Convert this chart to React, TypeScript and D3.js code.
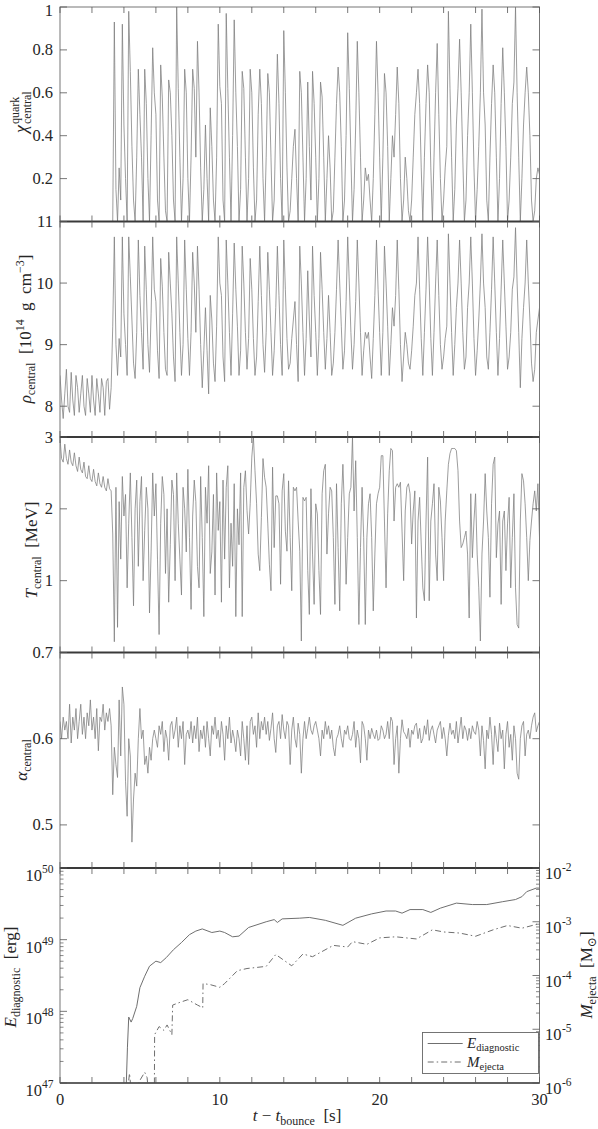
import React from "react";
import * as d3 from "d3";

// time step of the uniformly sampled central quantities [s]
const DT = 0.1;

// quark fraction at the centre (one row per second)
const chiQuark = [
  0, 0, 0, 0, 0, 0, 0, 0, 0, 0,
  0, 0, 0, 0, 0, 0, 0, 0, 0, 0,
  0, 0, 0, 0, 0, 0, 0, 0, 0, 0,
  0, 0, 0, 0, 0.93, 0.15, 0, 0.25, 0.1, 0.92,
  0.45, 0.2, 0, 0.98, 0.7, 0.35, 0.1, 0, 0.3, 0.71,
  0.5, 0.3, 0, 0.71, 0.55, 0.2, 0, 0.4, 0.81, 0.6,
  0.5, 0.1, 0, 0.73, 0.58, 0.3, 0.05, 0, 0.66, 0.6,
  0.4, 0.1, 0, 1.0, 0.62, 0.3, 0, 0.2, 0.71, 0.6,
  0.2, 0, 0.3, 0.71, 0.62, 0.3, 0.84, 0.6, 0.25, 0,
  0.15, 0.45, 0.2, 0, 0.53, 0.35, 0.1, 0, 0.3, 0.92,
  0.63, 0.55, 0.1, 0, 0.97, 0.62, 0.3, 0, 0.4, 0.94,
  0.6, 0.35, 0, 0.15, 0.7, 0.62, 0.3, 0, 0.2, 0.71,
  0.6, 0.25, 0, 0.1, 0.5, 0.71, 0.55, 0.2, 0, 0.3,
  0.69, 0.6, 0.3, 0, 0.1, 0.45, 0.78, 0.55, 0.2, 0,
  0.89, 0.6, 0.25, 0, 0.05, 0.2, 0.35, 0.43, 0.2, 0,
  0.7, 0.6, 0.3, 0, 0.2, 0.65, 0.35, 0.1, 0.7, 0.55,
  0.3, 0, 0.2, 0.65, 0.58, 0.3, 0, 0.2, 0.4, 0.25,
  0, 0.05, 0.3, 0.55, 0.72, 0.6, 0.35, 0, 0.1, 0.4,
  0.88, 0.62, 0.3, 0, 0.15, 0.45, 0.84, 0.6, 0.3, 0,
  0.1, 0.25, 0.19, 0.22, 0.1, 0, 0.2, 0.5, 0.84, 0.6,
  0.3, 0, 0.3, 0.69, 0.6, 0.35, 0, 0.2, 0.4, 0.3,
  0.5, 0.72, 0.55, 0.2, 0, 0.1, 0.3, 0.2, 0.05, 0,
  0.1, 0.3, 0.5, 0.6, 0.71, 0.55, 0.25, 0, 0.3, 0.55,
  0.73, 0.6, 0.25, 0, 0.3, 0.6, 0.83, 0.5, 0.2, 0,
  0.1, 0.25, 0.35, 0.98, 0.62, 0.3, 0, 0.15, 0.45, 0.62,
  0.85, 0.6, 0.3, 0, 0.1, 0.4, 0.6, 0.92, 0.6, 0.25,
  0, 0.15, 0.35, 0.6, 0.99, 0.6, 0.45, 0.1, 0, 0.3,
  0.55, 0.73, 0.6, 0.3, 0, 0.2, 0.55, 0.81, 0.6, 0.35,
  0, 0.1, 0.3, 0.55, 0.65, 1.0, 0.6, 0.3, 0, 0.2,
  0.45, 0.6, 0.72, 0.6, 0.4, 0.1, 0, 0.05, 0.2, 0.25,
  0.22,
];

// central density [1e14 g/cm^3]
const rhoCentral = [
  8.5, 8.1, 7.8, 8.2, 8.6, 8.0, 7.9, 8.55, 8.1, 7.85,
  8.5, 8.3, 7.9, 8.2, 8.5, 8.0, 7.85, 8.45, 8.2, 7.9,
  8.5, 8.1, 7.85, 8.45, 8.2, 7.9, 8.45, 8.3, 7.85, 8.4,
  8.45, 7.95, 8.3, 9.3, 10.75, 9.0, 8.5, 9.1, 8.8, 10.75,
  9.5, 9.0, 8.5, 10.75, 10.1, 9.4, 8.7, 8.45, 9.2, 10.7,
  9.8, 9.2, 8.6, 10.6, 9.9, 9.0, 8.55, 9.5, 10.75, 9.9,
  9.7, 8.9, 8.45, 10.4, 9.95, 9.2, 8.6, 8.5, 10.5, 10.0,
  9.5, 8.8, 8.4, 10.75, 10.0, 9.2, 8.5, 9.0, 10.7, 9.9,
  9.1, 8.5, 9.2, 10.5, 10.0, 9.2, 10.6, 9.9, 9.0, 8.3,
  8.9, 9.6, 8.9, 8.2, 9.8, 9.4, 8.7, 8.4, 9.3, 10.75,
  10.0, 9.8, 8.8, 8.4, 10.7, 10.0, 9.2, 8.5, 9.5, 10.65,
  9.9, 9.3, 8.5, 8.9, 10.6, 10.0, 9.2, 8.6, 9.1, 10.4,
  9.9, 9.1, 8.5, 8.8, 9.7, 10.6, 9.8, 9.0, 8.55, 9.2,
  10.5, 9.9, 9.2, 8.5, 8.9, 9.6, 10.6, 9.8, 9.0, 8.5,
  10.7, 9.9, 9.1, 8.6, 8.7, 9.1, 9.4, 9.7, 9.0, 8.4,
  10.6, 10.0, 9.2, 8.5, 9.1, 10.2, 9.4, 8.8, 10.6, 9.8,
  9.2, 8.5, 9.1, 10.5, 9.9, 9.2, 8.6, 9.1, 9.8, 9.2,
  8.5, 8.7, 9.2, 9.9, 10.7, 10.0, 9.3, 8.6, 8.9, 9.7,
  10.75, 10.0, 9.2, 8.6, 9.0, 9.7, 10.7, 10.0, 9.2, 8.5,
  8.9, 9.2, 9.1, 9.2, 8.8, 8.45, 9.1, 9.8, 10.7, 9.9,
  9.2, 8.5, 9.2, 10.6, 10.0, 9.3, 8.5, 9.0, 9.6, 9.3,
  9.8, 10.7, 9.9, 9.0, 8.4, 8.8, 9.2, 9.0, 8.7, 8.6,
  8.9, 9.3, 9.8, 10.0, 10.75, 9.9, 9.1, 8.5, 9.2, 9.9,
  10.75, 10.0, 9.1, 8.5, 9.2, 10.0, 10.7, 9.8, 9.0, 8.6,
  8.8, 9.1, 9.3, 10.8, 10.0, 9.2, 8.5, 9.0, 9.6, 10.0,
  10.7, 10.0, 9.2, 8.6, 8.8, 9.6, 10.0, 10.75, 10.0, 9.1,
  8.5, 8.9, 9.4, 10.0, 10.8, 10.0, 9.6, 8.8, 8.6, 9.2,
  9.9, 10.75, 10.0, 9.2, 8.5, 9.1, 9.9, 10.7, 10.0, 9.3,
  8.6, 8.8, 9.2, 9.9, 10.1, 10.9, 10.0, 9.2, 8.3, 9.1,
  9.6, 10.0, 10.7, 10.0, 9.4, 8.7, 8.4, 8.6, 9.2, 9.4,
  9.6,
];

// central temperature [MeV]
const tempCentral = [
  2.98, 2.7, 2.65, 2.9, 2.7, 2.62, 2.82, 2.65, 2.6, 2.78,
  2.6, 2.52, 2.72, 2.55, 2.5, 2.65, 2.45, 2.42, 2.6, 2.42,
  2.38, 2.55, 2.38, 2.32, 2.5, 2.35, 2.3, 2.45, 2.3, 2.25,
  2.42, 2.28, 2.25, 1.65, 0.15, 2.3, 0.35, 2.1, 1.3, 2.45,
  1.9, 2.2, 0.9, 1.8, 2.5, 1.6, 0.65, 2.0, 2.4, 1.2,
  2.1, 2.45, 1.0, 1.7, 2.3, 2.0, 0.55, 1.4, 2.5, 1.9,
  2.35, 1.3, 0.25, 1.8, 2.45, 2.2, 1.1, 2.0, 0.7, 1.5,
  2.4, 2.2, 1.0, 2.5, 1.8, 1.3, 0.8, 2.3, 2.0, 1.4,
  2.55, 1.6, 0.6, 1.9, 2.4, 2.1, 1.2, 0.9, 2.45, 1.6,
  0.5, 2.3, 1.8, 2.6, 1.1, 1.4, 2.2, 0.8, 2.5, 1.7,
  2.1, 0.7, 2.4, 1.3, 2.3, 2.6, 0.9, 1.8, 1.2, 2.35,
  0.5, 2.0, 1.5, 2.5, 0.5, 2.3, 2.53, 1.98, 1.65, 2.07,
  2.72, 3.0, 2.53, 2.07, 1.37, 1.14, 1.88, 2.7, 2.44, 2.3,
  1.79, 1.23, 0.86, 2.58, 1.46, 2.18, 2.18, 2.07, 0.95, 2.25,
  2.49, 1.69, 1.41, 2.39, 1.6, 0.86, 2.3, 2.25, 2.3, 1.83,
  1.41, 0.16, 2.16, 2.11, 2.16, 1.14, 0.53, 2.28, 1.37, 0.67,
  2.07, 1.93, 1.14, 0.53, 2.21, 2.53, 2.62, 1.37, 1.93, 2.3,
  2.25, 1.6, 0.67, 2.35, 1.46, 0.58, 2.07, 2.62, 1.97, 0.95,
  1.6, 2.21, 2.3, 3.0, 1.97, 2.67, 1.6, 0.39, 1.46, 2.3,
  1.6, 0.39, 1.6, 2.07, 2.21, 1.6, 0.58, 1.37, 2.07, 2.21,
  2.3, 2.74, 2.74, 1.83, 0.9, 1.93, 2.53, 2.84, 2.81, 1.83,
  2.3, 2.35, 2.3, 2.37, 1.69, 1.0, 1.97, 2.3, 2.35, 2.21,
  1.51, 1.97, 2.25, 0.48, 1.83, 2.16, 1.51, 0.9, 0.72, 1.83,
  2.72, 0.72, 1.83, 2.07, 2.35, 1.37, 1.0, 2.3, 2.11, 1.6,
  1.0, 1.83, 2.25, 2.62, 2.77, 2.84, 2.84, 2.84, 2.81, 2.53,
  1.83, 1.46, 1.51, 1.6, 1.69, 1.37, 0.48, 2.21, 1.32, 1.83,
  2.21, 1.37, 0.9, 0.16, 1.37, 1.83, 2.49, 1.97, 1.6, 0.77,
  2.07, 2.62, 2.72, 1.32, 1.79, 1.97, 0.67, 1.83, 1.97, 1.14,
  1.79, 2.16, 0.9, 1.6, 2.21, 0.9, 0.39, 0.34, 1.83, 2.49,
  2.39, 2.07, 1.6, 1.0, 1.56, 1.83, 2.07, 2.25, 1.97, 2.35,
  1.6,
];

// central alpha
const alphaCentral = [
  0.62, 0.6, 0.625, 0.61, 0.62, 0.6, 0.64, 0.595, 0.625, 0.61,
  0.635, 0.6, 0.62, 0.64, 0.605, 0.625, 0.6, 0.63, 0.615, 0.645,
  0.61, 0.625, 0.6, 0.635, 0.586, 0.625, 0.62, 0.64, 0.61, 0.63,
  0.62, 0.635, 0.615, 0.535, 0.59, 0.57, 0.555, 0.645, 0.58, 0.66,
  0.64, 0.55, 0.51, 0.6, 0.58, 0.48, 0.53, 0.56, 0.545, 0.6,
  0.635, 0.6, 0.61, 0.57, 0.58, 0.56, 0.59, 0.575, 0.6, 0.61,
  0.6, 0.59, 0.615, 0.605, 0.62, 0.585, 0.61, 0.6, 0.575, 0.615,
  0.62, 0.6, 0.61, 0.625, 0.59, 0.615, 0.6, 0.62, 0.57, 0.605,
  0.61, 0.6, 0.62, 0.595, 0.615, 0.6, 0.625, 0.585, 0.61, 0.6,
  0.615, 0.59, 0.62, 0.6, 0.58, 0.615, 0.605, 0.625, 0.6, 0.61,
  0.59, 0.62, 0.605, 0.575, 0.615, 0.6, 0.625, 0.595, 0.61, 0.6,
  0.585, 0.61, 0.6, 0.58, 0.62, 0.6, 0.575, 0.615, 0.57, 0.62,
  0.625, 0.605, 0.615, 0.59, 0.63, 0.6, 0.62, 0.61, 0.625, 0.605,
  0.62, 0.598, 0.612, 0.63, 0.6, 0.584, 0.615, 0.62, 0.6, 0.628,
  0.61, 0.6, 0.62, 0.615, 0.57, 0.61, 0.625, 0.6, 0.59, 0.618,
  0.605, 0.56, 0.6, 0.62, 0.6, 0.612, 0.625, 0.61, 0.605, 0.615,
  0.62, 0.61, 0.6, 0.58, 0.61, 0.6, 0.62, 0.605, 0.615, 0.6,
  0.61, 0.59, 0.58, 0.6, 0.605, 0.615, 0.6, 0.59, 0.61, 0.605,
  0.615, 0.6, 0.598, 0.605, 0.62, 0.59, 0.61, 0.6, 0.572, 0.62,
  0.615, 0.6, 0.575, 0.61, 0.6, 0.612, 0.605, 0.6, 0.61, 0.598,
  0.6, 0.615, 0.61, 0.6, 0.605, 0.62, 0.6, 0.625, 0.62, 0.57,
  0.6, 0.615, 0.56, 0.6, 0.622, 0.608, 0.605, 0.6, 0.612, 0.59,
  0.61, 0.605, 0.615, 0.618, 0.6, 0.612, 0.595, 0.6, 0.615, 0.605,
  0.622, 0.598, 0.61, 0.615, 0.605, 0.595, 0.61, 0.615, 0.62, 0.6,
  0.613, 0.6, 0.58, 0.604, 0.618, 0.605, 0.61, 0.6, 0.62, 0.595,
  0.61, 0.625, 0.6, 0.615, 0.61, 0.598, 0.612, 0.6, 0.615, 0.608,
  0.605, 0.62, 0.61, 0.58, 0.615, 0.598, 0.565, 0.61, 0.6, 0.625,
  0.605, 0.57, 0.615, 0.6, 0.585, 0.618, 0.6, 0.61, 0.565, 0.605,
  0.62, 0.59, 0.605, 0.575, 0.615, 0.6, 0.56, 0.553, 0.6, 0.615,
  0.62, 0.58, 0.605, 0.61, 0.6, 0.615, 0.625, 0.63, 0.608, 0.615,
  0.62,
];

// diagnostic explosion energy: time [s] and log10(E / erg)
const eDiagTime = [4.15, 4.22, 4.3, 4.45, 4.55, 4.8, 5.0, 5.3, 5.6, 6.0, 6.3, 6.65, 7.1, 7.6, 8.1, 8.5, 8.9, 9.5, 10.0, 10.3, 10.8, 11.2, 11.8, 12.9, 13.4, 13.6, 13.9, 15.0, 15.6, 16.6, 17.7, 18.5, 19.5, 20.4, 21.0, 21.4, 21.9, 22.7, 23.2, 23.8, 24.8, 25.8, 26.7, 27.7, 28.5, 28.9, 29.2, 29.8, 30.0];
const eDiagLog = [47.0, 47.5, 47.92, 47.85, 47.9, 48.07, 48.33, 48.49, 48.63, 48.7, 48.68, 48.75, 48.86, 48.96, 49.07, 49.12, 49.15, 49.1, 49.12, 49.1, 49.04, 49.05, 49.17, 49.25, 49.28, 49.24, 49.29, 49.3, 49.31, 49.27, 49.2, 49.3, 49.36, 49.4, 49.4, 49.37, 49.42, 49.42, 49.38, 49.44, 49.51, 49.49, 49.49, 49.53, 49.56, 49.6, 49.67, 49.72, 49.72];

// ejecta mass: time [s] and log10(M / Msun)
const mEjTime = [4.2, 4.35, 4.5, 5.0, 5.3, 5.45, 5.6, 5.9, 5.92, 6.2, 6.5, 6.7, 7.0, 7.05, 7.5, 8.0, 8.6, 8.93, 8.95, 9.4, 10.0, 10.3, 10.6, 11.1, 11.7, 12.9, 13.5, 14.5, 15.2, 15.8, 17.1, 18.0, 18.3, 19.2, 20.0, 21.0, 22.3, 23.3, 24.0, 25.0, 26.0, 27.1, 28.0, 28.9, 29.8, 30.0];
const mEjLog = [-6.2, -5.82, -6.3, -5.95, -5.8, -5.9, -6.4, -6.4, -5.1, -4.95, -5.02, -4.92, -5.1, -4.55, -4.5, -4.45, -4.55, -4.6, -4.15, -4.17, -4.22, -4.15, -4.06, -3.91, -3.87, -3.83, -3.61, -3.82, -3.6, -3.65, -3.44, -3.47, -3.37, -3.42, -3.3, -3.28, -3.32, -3.15, -3.19, -3.21, -3.27, -3.15, -3.07, -3.12, -3.05, -3.02];

// axes
const xTickValues = [0, 2, 4, 6, 8, 10, 12, 14, 16, 18, 20, 22, 24, 26, 28, 30];
const xTickLabels = [0, 10, 20, 30];
const chiTicks = [0.2, 0.4, 0.6, 0.8, 1];
const rhoTicks = [8, 9, 10, 11];
const tempTicks = [1, 2, 3];
const alphaTicks = [0.5, 0.6, 0.7];
const eDecades = [47, 48, 49, 50];
const mDecades = [-6, -5, -4, -3, -2];

const FONT = "Liberation Serif, DejaVu Serif, serif";
const X0 = 60;
const X1 = 539.5;
const EDGES = [7, 221.5, 437, 652.5, 868, 1083];
const LINE = "#7c7c7c";
const TXT = "#262626";
const TICK = "#555";
const NB = "\u00a0";

export default function App() {
  const x = d3.scaleLinear().domain([0, 30]).range([X0, X1]);
  const yChi = d3.scaleLinear().domain([0, 1]).range([EDGES[1], EDGES[0]]);
  const yRho = d3.scaleLinear().domain([7.5, 11]).range([EDGES[2], EDGES[1]]);
  const yT = d3.scaleLinear().domain([0, 3]).range([EDGES[3], EDGES[2]]);
  const yA = d3.scaleLinear().domain([0.45, 0.7]).range([EDGES[4], EDGES[3]]);
  const yE = d3.scaleLog().domain([1e47, 1e50]).range([EDGES[5], EDGES[4]]);
  const yM = d3.scaleLog().domain([1e-6, 1e-2]).range([EDGES[5], EDGES[4]]);

  const uniform = (ys: d3.ScaleLinear<number, number>) =>
    d3.line<number>().x((_, i) => x(i * DT)).y((d) => ys(d));

  const eLine = d3
    .line<number>()
    .x((_, i) => x(eDiagTime[i]))
    .y((d) => yE(Math.pow(10, d)))(eDiagLog);
  const mLine = d3
    .line<number>()
    .x((_, i) => x(mEjTime[i]))
    .y((d) => yM(Math.pow(10, d)))(mEjLog);

  const panels = [
    { ys: yChi, data: chiQuark, ticks: chiTicks },
    { ys: yRho, data: rhoCentral, ticks: rhoTicks },
    { ys: yT, data: tempCentral, ticks: tempTicks },
    { ys: yA, data: alphaCentral, ticks: alphaTicks },
  ];

  const isDecade = (v: number) => Math.abs(Math.log10(v) - Math.round(Math.log10(v))) < 1e-6;
  const eMinor = yE.ticks().filter((v) => !isDecade(v));
  const mMinor = yM.ticks().filter((v) => !isDecade(v));

  return (
    <svg
      width={598}
      height={1129}
      style={{ display: "block", position: "absolute", left: 0, top: 0, fontFamily: FONT }}
    >
      <rect width={598} height={1129} fill="#fff" />
      <defs>
        {EDGES.slice(0, 5).map((top, k) => (
          <clipPath id={`clip${k}`} key={k}>
            <rect x={X0} y={top} width={X1 - X0} height={EDGES[k + 1] - top} />
          </clipPath>
        ))}
      </defs>

      {panels.map((p, k) => (
        <path key={`l${k}`} d={uniform(p.ys)(p.data) || ""} fill="none" stroke={LINE} strokeWidth={0.75} clipPath={`url(#clip${k})`} />
      ))}
      <path d={eLine || ""} fill="none" stroke="#6f6f6f" strokeWidth={1} clipPath="url(#clip4)" />
      <path d={mLine || ""} fill="none" stroke="#6f6f6f" strokeWidth={1} strokeDasharray="6,3,1.5,3" clipPath="url(#clip4)" />

      {/* frames */}
      {EDGES.slice(0, 5).map((top, k) => (
        <rect key={`f${k}`} x={X0} y={top} width={X1 - X0} height={EDGES[k + 1] - top} fill="none" stroke="#777" strokeWidth={1} />
      ))}
      {EDGES.slice(1, 5).map((yy, k) => (
        <line key={`s${k}`} x1={X0} x2={X1} y1={yy} y2={yy} stroke="#3a3a3a" strokeWidth={1.8} />
      ))}
      <line x1={X0} x2={X1} y1={EDGES[5]} y2={EDGES[5]} stroke="#444" strokeWidth={1.3} />

      {/* x ticks */}
      {EDGES.slice(0, 5).map((top, k) =>
        xTickValues.map((v) => (
          <g key={`xt${k}-${v}`}>
            <line x1={x(v)} x2={x(v)} y1={top} y2={top + 6} stroke={TICK} strokeWidth={0.8} />
            <line x1={x(v)} x2={x(v)} y1={EDGES[k + 1]} y2={EDGES[k + 1] - 6} stroke={TICK} strokeWidth={0.8} />
          </g>
        ))
      )}

      {/* linear y ticks and labels */}
      {panels.map((p, k) =>
        p.ticks.map((v) => (
          <g key={`yt${k}-${v}`}>
            <line x1={X0} x2={X0 + 7} y1={p.ys(v)} y2={p.ys(v)} stroke={TICK} strokeWidth={0.8} />
            <line x1={X1} x2={X1 - 7} y1={p.ys(v)} y2={p.ys(v)} stroke={TICK} strokeWidth={0.8} />
            <text x={53} y={Math.max(p.ys(v) + 5.5, 16)} textAnchor="end" fontSize={16.5} fill={TXT} fontFamily={FONT}>
              {String(v)}
            </text>
          </g>
        ))
      )}

      {/* log ticks */}
      {eMinor.map((v, i) => (
        <line key={`em${i}`} x1={X0} x2={X0 + 3.5} y1={yE(v)} y2={yE(v)} stroke={TICK} strokeWidth={0.7} />
      ))}
      {mMinor.map((v, i) => (
        <line key={`mm${i}`} x1={X1} x2={X1 - 3.5} y1={yM(v)} y2={yM(v)} stroke={TICK} strokeWidth={0.7} />
      ))}
      {eDecades.map((d) => (
        <g key={`ed${d}`} fontFamily={FONT}>
          <line x1={X0} x2={X0 + 7} y1={yE(Math.pow(10, d))} y2={yE(Math.pow(10, d))} stroke={TICK} strokeWidth={0.8} />
          <text x={42} y={yE(Math.pow(10, d)) + 13} textAnchor="end" fontSize={16.5} fill={TXT}>10</text>
          <text x={42} y={yE(Math.pow(10, d)) + 5} fontSize={11.5} fill={TXT}>{d}</text>
        </g>
      ))}
      {mDecades.map((d) => (
        <g key={`md${d}`} fontFamily={FONT}>
          <line x1={X1} x2={X1 - 7} y1={yM(Math.pow(10, d))} y2={yM(Math.pow(10, d))} stroke={TICK} strokeWidth={0.8} />
          <text x={545} y={yM(Math.pow(10, d)) + 11} fontSize={16.5} fill={TXT}>10</text>
          <text x={562} y={yM(Math.pow(10, d)) + 3} fontSize={11.5} fill={TXT}>{`-${Math.abs(d)}`}</text>
        </g>
      ))}

      {/* x tick labels */}
      {xTickLabels.map((v) => (
        <text key={`xl${v}`} x={x(v)} y={1105} textAnchor="middle" fontSize={16.5} fill={TXT} fontFamily={FONT}>
          {v}
        </text>
      ))}

      <g fontFamily={FONT} fill={TXT}>
        {/* x title */}
        <text x={297} y={1121} textAnchor="middle" fontSize={17}>
          <tspan fontStyle="italic">t</tspan>
          <tspan>{NB}−{NB}</tspan>
          <tspan fontStyle="italic">t</tspan>
          <tspan fontSize={12} dy={4}>bounce</tspan>
          <tspan dy={-4}>{NB}{NB}[s]</tspan>
        </text>

        {/* y titles */}
        <g transform="translate(27,113) rotate(-90)">
          <text x={-12} y={0} textAnchor="end" fontSize={18} fontStyle="italic">χ</text>
          <text x={-11} y={-8} fontSize={12}>quark</text>
          <text x={-11} y={4} fontSize={12}>central</text>
        </g>
        <text transform="translate(31,329) rotate(-90)" textAnchor="middle" fontSize={17}>
          <tspan fontStyle="italic">ρ</tspan>
          <tspan fontSize={12} dy={4}>central</tspan>
          <tspan dy={-4}>{NB}{NB}[10</tspan>
          <tspan fontSize={12} dy={-7}>14</tspan>
          <tspan dy={7}>{NB}{NB}g{NB}{NB}cm</tspan>
          <tspan fontSize={12} dy={-7}>−3</tspan>
          <tspan dy={7}>]</tspan>
        </text>
        <text transform="translate(37,550) rotate(-90)" textAnchor="middle" fontSize={17}>
          <tspan fontStyle="italic">T</tspan>
          <tspan fontSize={12} dy={4}>central</tspan>
          <tspan dy={-4}>{NB}{NB}[MeV]</tspan>
        </text>
        <text transform="translate(27,760) rotate(-90)" textAnchor="middle" fontSize={17}>
          <tspan fontStyle="italic">α</tspan>
          <tspan fontSize={12} dy={4}>central</tspan>
        </text>
        <text transform="translate(16,977) rotate(-90)" textAnchor="middle" fontSize={17}>
          <tspan fontStyle="italic">E</tspan>
          <tspan fontSize={12} dy={4}>diagnostic</tspan>
          <tspan dy={-4}>{NB}{NB}[erg]</tspan>
        </text>
        <text transform="translate(592,975) rotate(-90)" textAnchor="middle" fontSize={17}>
          <tspan fontStyle="italic">M</tspan>
          <tspan fontSize={12} dy={4}>ejecta</tspan>
          <tspan dy={-4}>{NB}{NB}[M</tspan>
          <tspan fontSize={12} dy={4}>⊙</tspan>
          <tspan dy={-4}>]</tspan>
        </text>

        {/* legend */}
        <rect x={422.5} y={1032.5} width={116} height={41} fill="#fff" stroke="#666" strokeWidth={0.9} />
        <line x1={427.7} x2={462.7} y1={1043.5} y2={1043.5} stroke="#6f6f6f" strokeWidth={1} />
        <line x1={427.7} x2={462.7} y1={1062} y2={1062} stroke="#6f6f6f" strokeWidth={1} strokeDasharray="6,3,1.5,3" />
        <text x={467} y={1048} fontSize={15}>
          <tspan fontStyle="italic">E</tspan>
          <tspan fontSize={10.5} dy={3}>diagnostic</tspan>
        </text>
        <text x={467} y={1066.5} fontSize={15}>
          <tspan fontStyle="italic">M</tspan>
          <tspan fontSize={10.5} dy={3}>ejecta</tspan>
        </text>
      </g>
    </svg>
  );
}
